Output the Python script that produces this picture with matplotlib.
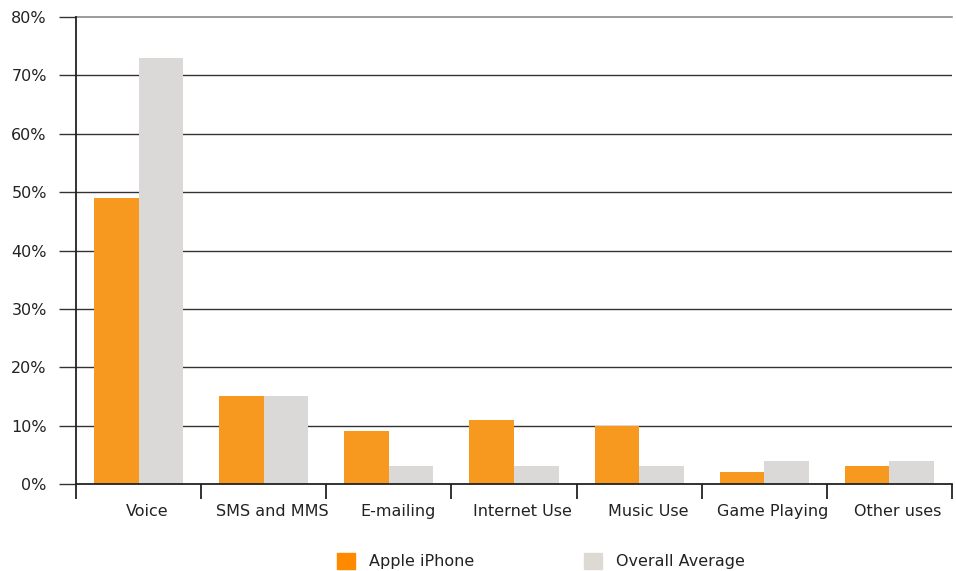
import matplotlib.pyplot as plt
from matplotlib.patches import Patch

categories = ['Voice', 'SMS and MMS', 'E-mailing', 'Internet Use',
              'Music Use', 'Game Playing', 'Other uses']
iphone = [49, 15, 9, 11, 10, 2, 3]
overall = [73, 15, 3, 3, 3, 4, 4]
yticks = [0, 10, 20, 30, 40, 50, 60, 70, 80]

c_orange = '#F7991E'
c_gray = '#DAD9D7'

fig = plt.figure(figsize=(9.56, 5.71), dpi=100)
ax = fig.add_axes([0.0795, 0.1524, 0.9163, 0.8176])

n = len(categories)
w = 0.356
xs = [i + 0.5 for i in range(n)]
ax.bar([x - w / 2 for x in xs], iphone, width=w, color=c_orange, zorder=3)
ax.bar([x + w / 2 for x in xs], overall, width=w, color=c_gray, zorder=3)

ax.set_xlim(0, n)
ax.set_ylim(0, 80)

# horizontal grid lines, top one lighter
for t in yticks[1:-1]:
    ax.axhline(t, color='#333333', lw=1, zorder=1)
ax.axhline(80, color='#8a8a8a', lw=1.2, zorder=1, clip_on=False)

ax.set_yticks(yticks)
ax.set_yticklabels(['%d%%' % t for t in yticks], fontsize=11.5, color='#222222')
ax.tick_params(axis='y', length=12, width=1, color='#333333', pad=9)

ax.set_xticks(range(n + 1))
ax.set_xticklabels([])
ax.tick_params(axis='x', length=11, width=1.3, color='#222222')

for i, c in enumerate(categories):
    ax.text(i + 0.57, -4.8, c, ha='center', va='center', fontsize=11.5, color='#222222')

for s in ['top', 'right']:
    ax.spines[s].set_visible(False)
ax.spines['left'].set_color('#222222')
ax.spines['left'].set_linewidth(1.3)
ax.spines['bottom'].set_color('#222222')
ax.spines['bottom'].set_linewidth(1.3)
ax.spines['left'].set_zorder(4)
ax.spines['bottom'].set_zorder(4)

handles = [Patch(color='#FF8A00', label='Apple iPhone'),
           Patch(color='#DCDAD3', label='Overall Average')]
fig.legend(handles=handles, loc='center', bbox_to_anchor=(0.566, 0.017), ncol=2,
           frameon=False, fontsize=11.5, handlelength=1.1, handleheight=1.1,
           columnspacing=6.9, handletextpad=0.9, labelcolor='#222222')

fig.savefig('out.png', dpi=100)
